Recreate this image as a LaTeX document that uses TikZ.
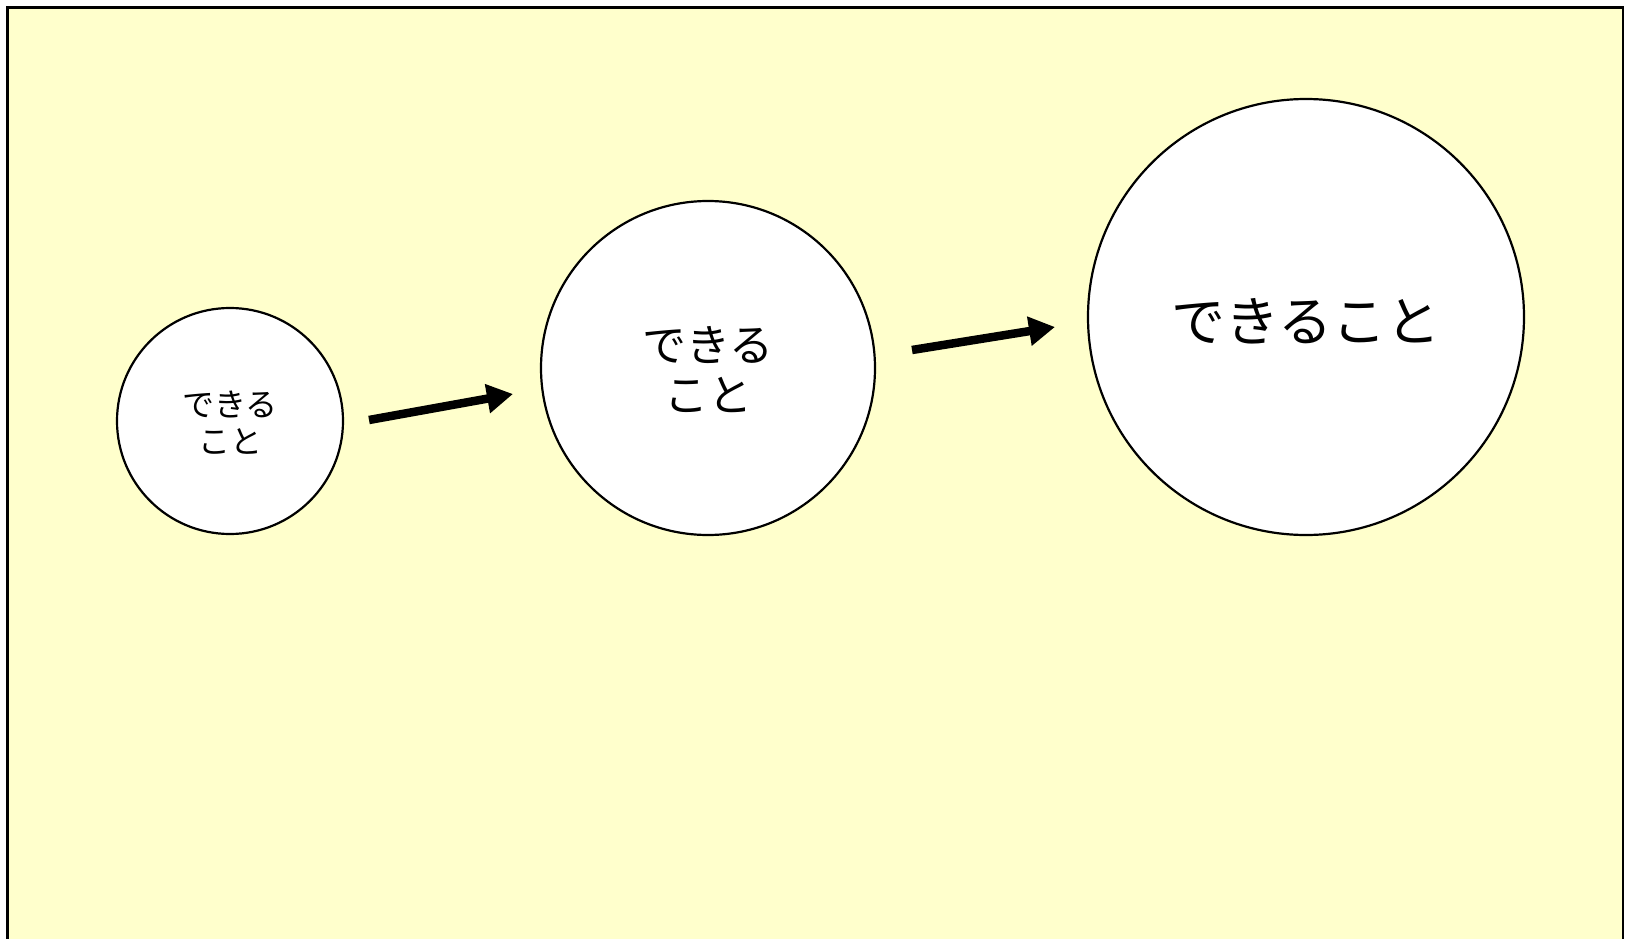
\documentclass[tikz,border=0pt]{standalone}
\usepackage{fontspec}
\newfontfamily\jpfont{Noto Sans CJK JP}
\usetikzlibrary{arrows.meta}
\begin{document}
\begin{tikzpicture}[x=1pt,y=-1pt,
  bubble/.style={circle,draw=black,line width=2.2pt,fill=white,inner sep=0pt,align=center},
  flow/.style={line width=8.5pt,-{Triangle[length=26pt,width=28pt]}}]
\useasboundingbox (0,0) rectangle (1625,939);
\draw[line width=2.5pt,fill={rgb,255:red,255;green,255;blue,204}] (7.5,7.5) rectangle (1623,942);
\node[bubble,minimum size=226pt] (c1) at (230,421) {};
\node[font={\jpfont\fontsize{32pt}{37pt}\selectfont},align=center] (t1) at (230,423) {できる\\こと};
\node[bubble,minimum size=334pt] (c2) at (708,368) {};
\node[font={\jpfont\fontsize{44pt}{50pt}\selectfont},align=center] (t2) at (708,370) {できる\\こと};
\node[bubble,minimum size=436pt] (c3) at (1306,317) {};
\node[font={\jpfont\fontsize{54pt}{60pt}\selectfont}] (t3) at (1306,321) {できること};
\coordinate (a1s) at (369,420);
\coordinate (a1e) at (513,394);
\coordinate (a2s) at (912,350);
\coordinate (a2e) at (1055,327);
\draw[flow] (a1s) -- (a1e);
\draw[flow] (a2s) -- (a2e);
\end{tikzpicture}
\end{document}
